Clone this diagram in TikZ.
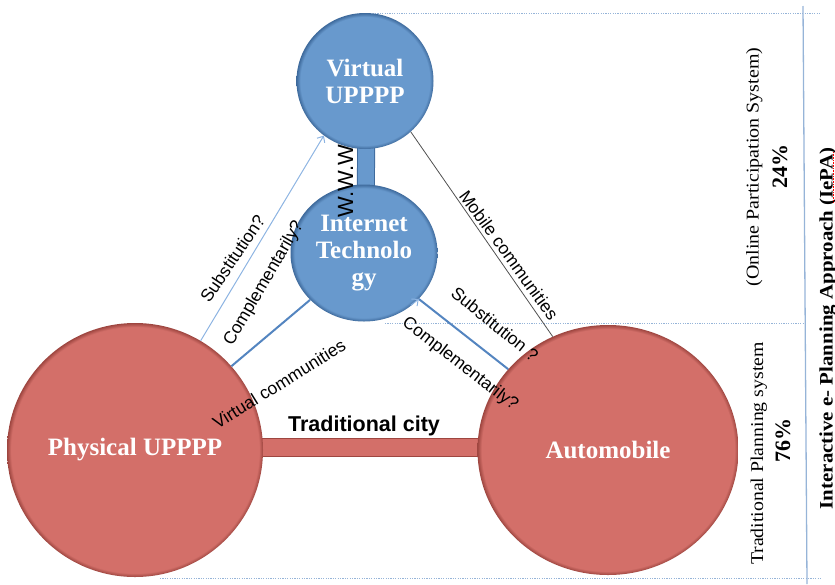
\documentclass[tikz,border=0pt]{standalone}
\usepackage{fontspec}
\setmainfont{Liberation Serif}
\setsansfont{Liberation Sans}
\usetikzlibrary{shapes.geometric,arrows.meta,backgrounds}

\definecolor{redfill}{RGB}{211,111,105}
\definecolor{redrim}{RGB}{158,70,64}
\definecolor{bluefill}{RGB}{104,153,205}
\definecolor{bluerim}{RGB}{62,106,156}
\definecolor{linkblue}{RGB}{84,133,192}
\definecolor{paleblue}{RGB}{141,180,226}
\definecolor{guide}{RGB}{150,180,216}
\definecolor{mobilegray}{RGB}{80,80,80}

% flat fill with a darker rim near the border
\pgfdeclareradialshading{bigred}{\pgfpointorigin}{color(0bp)=(redfill); color(24.2bp)=(redfill); color(25bp)=(redrim); color(50bp)=(redrim)}
\pgfdeclareradialshading{smallblue}{\pgfpointorigin}{color(0bp)=(bluefill); color(23.6bp)=(bluefill); color(25bp)=(bluerim); color(50bp)=(bluerim)}

\tikzset{
  bubble/.style={ellipse, inner sep=0pt, shade, text=white, align=center,
    font=\bfseries\fontsize{25}{27}\selectfont},
  lab/.style={font=\sffamily\fontsize{17.5}{19}\selectfont, inner sep=0pt},
  sidetext/.style={rotate=90, anchor=base, inner sep=0pt},
  guideline/.style={draw=guide, line width=1pt, dash pattern=on 1.2pt off 1.2pt},
  redbar/.style={draw=redrim, line width=1pt, double=redfill, double distance=17pt},
  bluebar/.style={draw=bluerim, line width=1pt, double=bluefill, double distance=16pt},
  opentip/.style={-{Straight Barb[length=5pt,width=9pt]}},
}

\begin{document}
\begin{tikzpicture}[x=1pt,y=-1pt]
\useasboundingbox (0,0) rectangle (835,584);

% the four spheres of the model
\node[bubble, shading=smallblue, minimum width=137pt, minimum height=136pt] (virt) at (365,81) {Virtual\\UPPPP};
\node[bubble, shading=smallblue, minimum width=147pt, minimum height=137pt] (inet) at (364,253) {Internet\\Technolo\\gy};
\node[bubble, shading=bigred, minimum width=256pt, minimum height=254pt] (phys) at (135,450) {Physical UPPPP};
\node[bubble, shading=bigred, minimum width=261pt, minimum height=250pt] (auto) at (608,450) {Automobile};

\begin{pgfonlayer}{background}
  % section guides of the right-hand column
  \draw[guideline] (363,13.5) -- (820,13.5);
  \draw[guideline] (385,323) -- (805,323);
  \draw[guideline] (160,578) -- (822,578);
  \draw[draw=guide, line width=1.3pt] (803,6) -- (807,584);
  % solid links between spheres
  \draw[bluebar] ([xshift=1.5pt]virt.center) -- ([xshift=1.5pt]inet.center);
  \draw[redbar] ([yshift=2.5pt]phys.center) -- ([yshift=2.5pt]auto.center);
\end{pgfonlayer}

% relations
\draw[opentip, draw=paleblue, line width=1pt] (phys.59) -- (virt.233);
\draw[draw=linkblue, line width=2pt] (phys.41) -- (inet.221);
\draw[draw=mobilegray, line width=0.8pt] (virt.312) -- (auto.116);
\draw[draw=linkblue, line width=2pt] (auto.141) -- (inet.320);
\draw[opentip, draw=paleblue, line width=1pt] ([shift={(-8pt,-6.4pt)}]inet.320) -- (inet.320);

\node[font=\sffamily\fontsize{22}{24}\selectfont, rotate=90, inner sep=0pt] (www) at (345.5,181) {W.W.W};
\node[font=\sffamily\bfseries\fontsize{21.5}{24}\selectfont, inner sep=0pt] (tcity) at (364,426) {Traditional city};

\node[lab, rotate=55.9] (lsubl) at (232.5,258.5) {Substitution?};
\node[lab, rotate=59.7] (lcompl) at (264,283.5) {Complementarily?};
\node[lab, rotate=31.8] (lvirt) at (279,384) {Virtual communities};
\node[lab, rotate=-53.9] (lmob) at (509,255) {Mobile communities};
\node[lab, rotate=-39] (lsubr) at (495,324) {Substitution ?};
\node[lab, rotate=-37.7] (lcompr) at (460,364) {Complementarily?};

% right-hand column
\node[sidetext, font=\fontsize{18}{20}\selectfont] (ops) at (758.5,167) {\scalebox{1.11}[1]{(Online Participation System)}};
\node[sidetext, font=\bfseries\fontsize{22}{24}\selectfont] (p24) at (787,166) {24\%};
\node[sidetext, font=\fontsize{18}{20}\selectfont] (tps) at (763,453.5) {\scalebox{1.10}[1]{Traditional Planning system}};
\node[sidetext, font=\bfseries\fontsize{22}{24}\selectfont] (p76) at (790,440.5) {76\%};
\node[sidetext, font=\bfseries\fontsize{19}{21}\selectfont] (iepa) at (832.5,328.5) {\scalebox{1.1}[1]{Interactive e- Planning Approach (IePA)}};
\draw[draw=red, line width=0.7pt, dash pattern=on 0.8pt off 0.8pt] (833.5,152) -- (833.5,202);

\end{tikzpicture}
\end{document}
